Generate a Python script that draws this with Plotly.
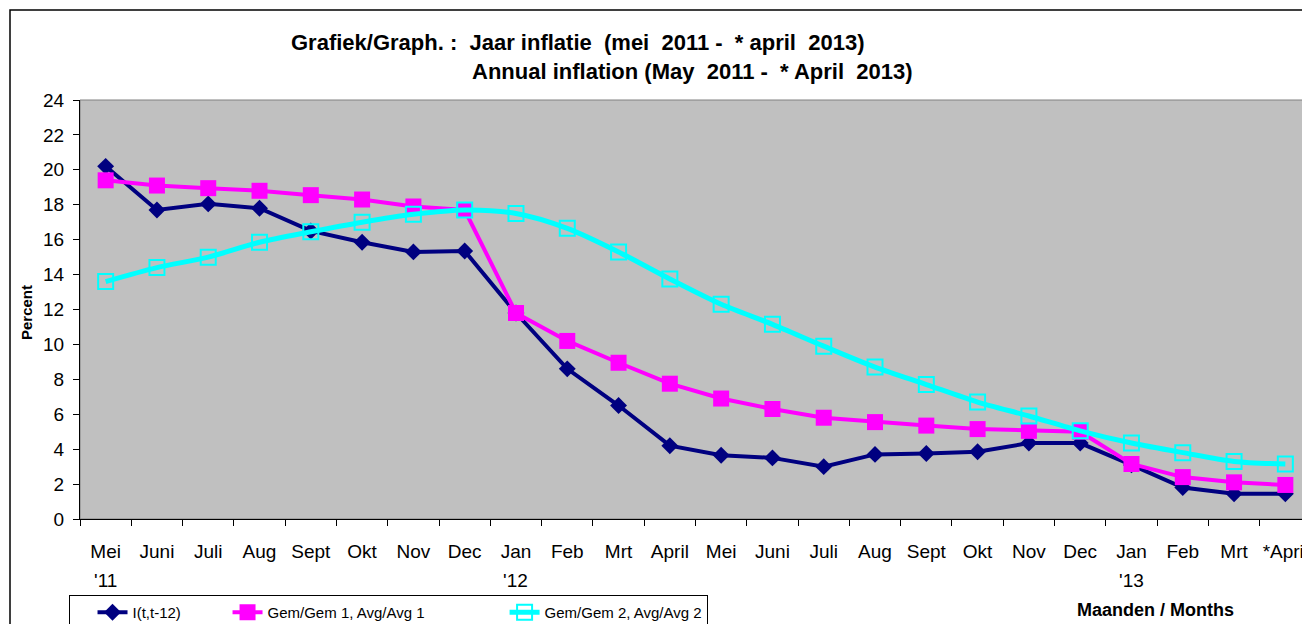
import plotly.graph_objects as go

months = ["Mei", "Juni", "Juli", "Aug", "Sept", "Okt", "Nov", "Dec",
          "Jan", "Feb", "Mrt", "April", "Mei", "Juni", "Juli", "Aug",
          "Sept", "Okt", "Nov", "Dec", "Jan", "Feb", "Mrt", "*April"]
year_labels = {0: "'11", 8: "'12", 20: "'13"}

inflation = [20.2, 17.7, 18.05, 17.8, 16.5, 15.85, 15.3, 15.35,
             11.8, 8.6, 6.5, 4.2, 3.65, 3.5, 3.0, 3.7,
             3.75, 3.85, 4.35, 4.35, 3.1, 1.8, 1.45, 1.45]
avg1 = [19.4, 19.1, 18.95, 18.8, 18.55, 18.3, 17.9, 17.7,
        11.8, 10.2, 8.95, 7.75, 6.9, 6.3, 5.8, 5.55,
        5.35, 5.15, 5.05, 5.0, 3.15, 2.4, 2.1, 1.95]
avg2 = [13.6, 14.4, 15.0, 15.85, 16.45, 17.0, 17.45, 17.7,
        17.5, 16.65, 15.3, 13.75, 12.3, 11.15, 9.9, 8.7,
        7.7, 6.7, 5.9, 5.05, 4.35, 3.8, 3.3, 3.15]

series_names = ["I(t,t-12)", "Gem/Gem 1, Avg/Avg 1", "Gem/Gem 2, Avg/Avg 2"]

FONT = "Liberation Sans, Arial, sans-serif"
NB = "\u00a0"
x = list(range(len(months)))

fig = go.Figure()
fig.add_trace(go.Scatter(
    x=x, y=inflation, name=series_names[0] + NB * 10, mode="lines+markers",
    line=dict(color="#000080", width=4),
    marker=dict(symbol="diamond", size=13, color="#000080")))
fig.add_trace(go.Scatter(
    x=x, y=avg1, name=series_names[1] + NB * 18, mode="lines+markers",
    line=dict(color="#FF00FF", width=4),
    marker=dict(symbol="square", size=16, color="#FF00FF")))
fig.add_trace(go.Scatter(
    x=x, y=avg2, name=series_names[2], mode="lines+markers",
    line=dict(color="#00FFFF", width=5, shape="spline", smoothing=0.8),
    marker=dict(symbol="square-open", size=15, color="#00FFFF",
                line=dict(color="#00FFFF", width=2))))

# figure is shown with an 8px page offset; targets below are in screen pixels
OFF = 8
W, H = 1310, 616
PL, PR, PT, PB = 80, 1311, 100, 519          # plot area on screen
L, T = PL - OFF, PT - OFF
R = W - (PR - OFF)
B = H - (PB - OFF)
pw, ph = PR - PL, PB - PT

def px_x(p):
    return (p - PL) / pw

def px_y(p):
    return (PB - p) / ph

def cx(p):
    return (p - OFF) / W

def cy(p):
    return 1 - (p - OFF) / H

annotations = [
    dict(text="Grafiek/Graph." + NB + ":" + NB * 2 + "Jaar inflatie" + NB * 2 + "(mei" + NB * 2
              + "2011 -" + NB * 2 + "* april" + NB * 2 + "2013)",
         x=px_x(577), y=px_y(42), xref="paper", yref="paper",
         xanchor="center", yanchor="middle", showarrow=False,
         font=dict(family=FONT, size=22, color="black", weight="bold")),
    dict(text="Annual inflation (May" + NB * 2 + "2011 -" + NB * 2 + "* April" + NB * 2 + "2013)",
         x=px_x(692), y=px_y(71), xref="paper", yref="paper",
         xanchor="center", yanchor="middle", showarrow=False,
         font=dict(family=FONT, size=22, color="black", weight="bold")),
    dict(text="Percent", textangle=-90,
         x=px_x(26), y=px_y(313), xref="paper", yref="paper",
         xanchor="center", yanchor="middle", showarrow=False,
         font=dict(family=FONT, size=15, color="black", weight="bold")),
    dict(text="Maanden / Months",
         x=px_x(1155), y=px_y(610), xref="paper", yref="paper",
         xanchor="center", yanchor="middle", showarrow=False,
         font=dict(family=FONT, size=18, color="black", weight="bold")),
]
for i, lab in year_labels.items():
    annotations.append(dict(text=lab, x=i, y=px_y(580), xref="x", yref="paper",
                            xanchor="center", yanchor="middle", showarrow=False,
                            font=dict(family=FONT, size=19, color="black")))

shapes = [
    dict(type="rect", xref="paper", yref="paper",
         x0=px_x(10), x1=px_x(1330), y0=px_y(650), y1=px_y(10),
         line=dict(color="black", width=1.5), layer="below"),
    dict(type="rect", xref="paper", yref="paper",
         x0=0, x1=1, y0=0, y1=1,
         line=dict(color="#808080", width=1), layer="below"),
]

fig.update_layout(
    width=W, height=H,
    margin=dict(l=L, r=R, t=T, b=B, pad=0, autoexpand=False),
    paper_bgcolor="white",
    plot_bgcolor="#C0C0C0",
    font=dict(family=FONT, size=19, color="black"),
    showlegend=True,
    legend=dict(orientation="h", xref="container", yref="container",
                x=cx(69), y=cy(595), xanchor="left", yanchor="top",
                bgcolor="white", bordercolor="black", borderwidth=1,
                font=dict(family=FONT, size=15, color="black"),
                title=dict(text=NB * 3, side="left",
                           font=dict(family=FONT, size=15)),
                itemwidth=30, tracegroupgap=0),
    annotations=annotations,
    shapes=shapes,
    xaxis=dict(range=[-0.5, 23.5], tickmode="array", tickvals=x, ticktext=months,
               ticks="", showgrid=False, zeroline=False,
               showline=True, linecolor="black", linewidth=1,
               ticklabelstandoff=15,
               tickfont=dict(family=FONT, size=19),
               minor=dict(tick0=-0.5, dtick=1, ticks="outside", ticklen=6,
                          tickcolor="black", showgrid=False)),
    yaxis=dict(range=[0, 24], dtick=2, ticks="outside", ticklen=6,
               tickcolor="black", showgrid=False, zeroline=False,
               showline=True, linecolor="black", linewidth=1,
               ticklabelstandoff=5,
               tickfont=dict(family=FONT, size=19)),
)

fig.write_html("out.html")
